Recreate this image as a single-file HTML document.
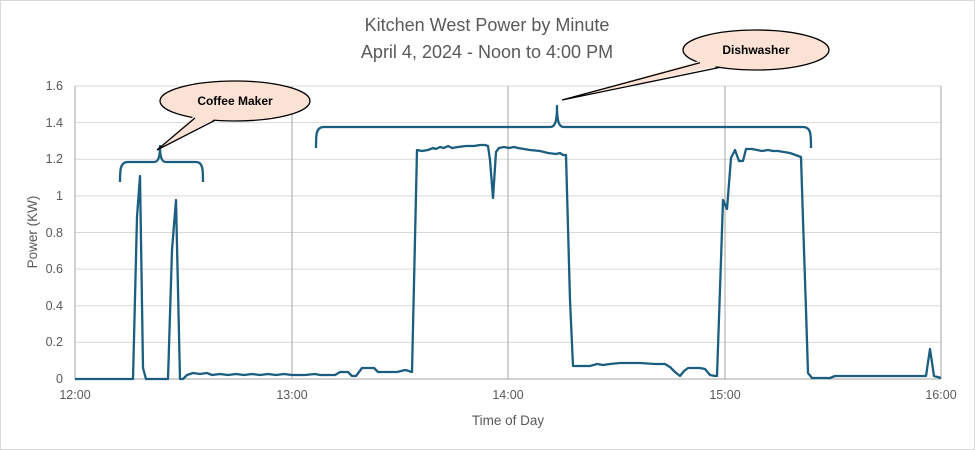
<!DOCTYPE html>
<html><head><meta charset="utf-8"><style>
body{margin:0;background:#fff}
svg{display:block;font-family:"Liberation Sans",sans-serif}
</style></head><body>
<svg width="975" height="450" viewBox="0 0 975 450">
<rect x="0.5" y="0.5" width="974" height="449" fill="#fff" stroke="#d9d9d9"/>
<g stroke="#d9d9d9" stroke-width="1">
<line x1="75" x2="941" y1="86" y2="86"/><line x1="75" x2="941" y1="122.6" y2="122.6"/>
<line x1="75" x2="941" y1="159.3" y2="159.3"/><line x1="75" x2="941" y1="195.9" y2="195.9"/>
<line x1="75" x2="941" y1="232.5" y2="232.5"/><line x1="75" x2="941" y1="269.1" y2="269.1"/>
<line x1="75" x2="941" y1="305.8" y2="305.8"/><line x1="75" x2="941" y1="342.4" y2="342.4"/>
</g>
<g stroke="#a6a6a6" stroke-width="1">
<line x1="75" x2="75" y1="86" y2="379"/><line x1="292" x2="292" y1="86" y2="379"/>
<line x1="508" x2="508" y1="86" y2="379"/><line x1="725" x2="725" y1="86" y2="379"/>
<line x1="941" x2="941" y1="86" y2="379"/><line x1="75" x2="941" y1="379" y2="379"/>
</g>
<g fill="#595959" font-size="12.5" text-anchor="end">
<text x="63" y="90">1.6</text><text x="63" y="127">1.4</text><text x="63" y="163">1.2</text>
<text x="63" y="200">1</text><text x="63" y="237">0.8</text><text x="63" y="273">0.6</text>
<text x="63" y="310">0.4</text><text x="63" y="346">0.2</text><text x="63" y="383">0</text>
</g>
<g fill="#595959" font-size="12.5" text-anchor="middle">
<text x="75" y="399">12:00</text><text x="292" y="399">13:00</text><text x="508" y="399">14:00</text>
<text x="725" y="399">15:00</text><text x="941" y="399">16:00</text>
<text x="508" y="425" font-size="13.5">Time of Day</text>
<text x="487" y="31" font-size="18">Kitchen West Power by Minute</text>
<text x="487" y="58" font-size="18">April 4, 2024 - Noon to 4:00 PM</text>
<text transform="translate(37,232) rotate(-90)" font-size="13.5">Power (KW)</text>
</g>
<g fill="none" stroke="#1b5e80" stroke-width="2.3" stroke-linejoin="round">
<polyline points="75,379 133,379 137,217 140,176 143,368 146,379 168,379 172,250 176,200 180,379 183,379 187,375 193,373 200,374 207,373 212,375 220,374 228,375 236,374 244,375 252,374 260,375 268,374 276,375 284,374 292,375 305,375 315,374 320,375 335,375 340,372 348,372 352,376 356,376 362,368 374,368 378,372 383,372 397,372 405,370 409,371 411,372 412,372 417,150 422,151 428,150 433,148 436,149 440,147 444,148 448,146 452,148 458,147 466,146 474,146 480,145 485,145 488,146 490,160 493,198 496,152 499,148 504,147 509,148 514,147 518,148 524,149 530,150 540,151 548,153 556,154 560,153 563,155 566,155 570,300 573,366 580,366 590,366 597,364 603,365 610,364 620,363 640,363 655,364 665,364 670,367 675,372 680,376 684,371 688,368 700,368 705,369 710,375 715,376 717,376 721,260 723,200 727,209 731,158 735,150 739,161 743,161 746,149 752,149 757,150 762,151 768,150 773,151 778,151 790,153 801,157 803,220 806,310 808,373 812,378 830,378 835,376 926,376 930,349 934,376 941,378"/>
<path d="M120,182 C120,170 120,162 128,162 L154,162 C158,162 160,158 160,146 C160,158 162,162 166,162 L196,162 C203,162 203,170 203,182"/>
<path d="M316,148 C316,134 316,127 324,127 L550,127 C555,127 557,122 557,106 C557,122 559,127 564,127 L803,127 C811,127 811,134 811,148"/>
</g>
<g stroke="#000" stroke-width="1.3" fill="#fbe2d5">
<ellipse cx="235" cy="101" rx="75" ry="20"/>
<ellipse cx="756" cy="50" rx="73" ry="20"/>
</g>
<path d="M194,116 L157,150 L216,118.5 Z" fill="#fbe2d5"/>
<path d="M195,118 L157,150 L215,120.3" fill="none" stroke="#000" stroke-width="1.3"/>
<path d="M699,61 L562,100 L721,65.5 Z" fill="#fbe2d5"/>
<path d="M700,62.8 L562,100 L720,67.4" fill="none" stroke="#000" stroke-width="1.3"/>
<g font-size="12" font-weight="bold" fill="#000" text-anchor="middle">
<text x="235" y="105">Coffee Maker</text>
<text x="756" y="54">Dishwasher</text>
</g>
</svg>
</body></html>
